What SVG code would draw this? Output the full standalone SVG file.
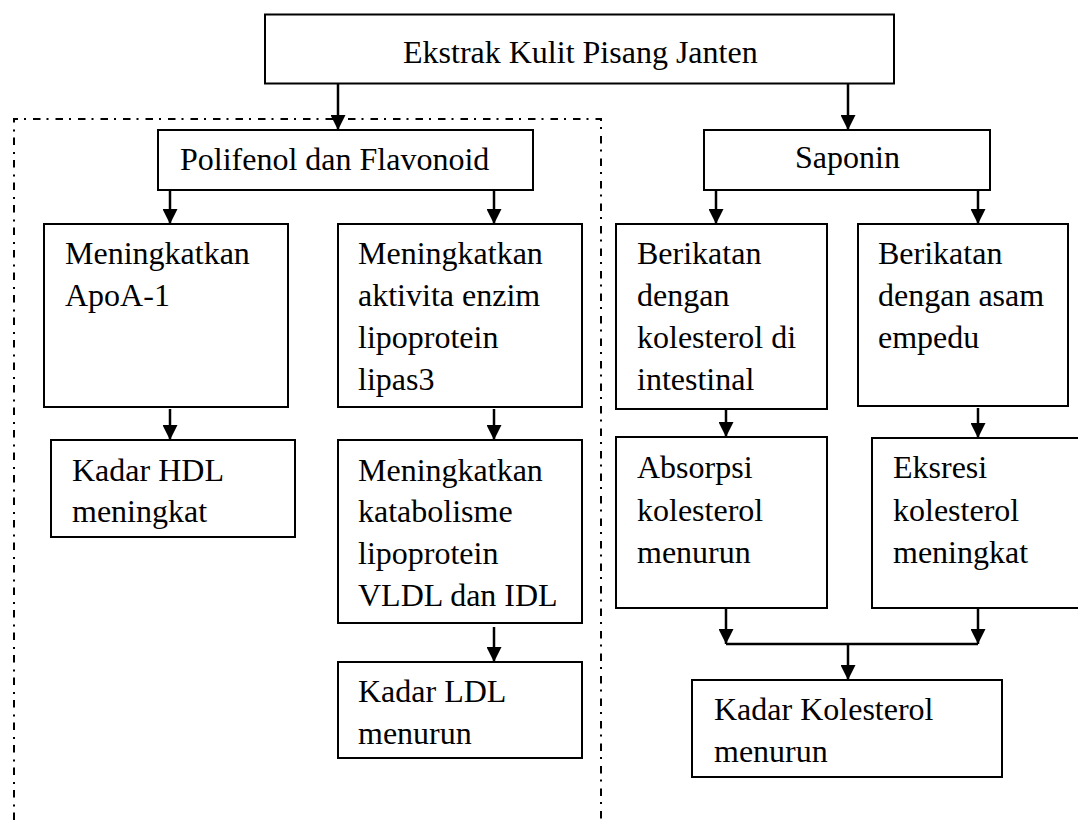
<svg xmlns="http://www.w3.org/2000/svg" width="1078" height="820" viewBox="0 0 1078 820">
<defs>
<marker id="ah" markerUnits="userSpaceOnUse" markerWidth="15" markerHeight="15" refX="15" refY="7.5" orient="auto">
<path d="M0,0 L15,7.5 L0,15 z" fill="#000"/>
</marker>
<style>
.box{fill:#fff;stroke:#000;stroke-width:2}
.t{font-family:"Liberation Serif","Times New Roman",serif;font-size:32px;fill:#000}
.c{fill:none;stroke:#000;stroke-width:2.5}
.a{fill:none;stroke:#000;stroke-width:2.5;marker-end:url(#ah)}
.dash{fill:none;stroke:#000;stroke-width:2;stroke-dasharray:7.5 6 2 7}
</style>
</defs>
<rect width="1078" height="820" fill="#fff"/>
<path class="dash" d="M14,820 V119 H601 V820"/>
<g id="connectors">
<line class="a" x1="338" y1="84" x2="338" y2="130"/>
<line class="a" x1="848" y1="84" x2="848" y2="130"/>
<line class="a" x1="170" y1="190" x2="170" y2="224"/>
<line class="a" x1="494" y1="190" x2="494" y2="224"/>
<line class="a" x1="716" y1="190" x2="716" y2="224"/>
<line class="a" x1="978" y1="190" x2="978" y2="224"/>
<line class="a" x1="170" y1="409" x2="170" y2="440"/>
<line class="a" x1="494" y1="409" x2="494" y2="440"/>
<line class="a" x1="726" y1="409" x2="726" y2="437"/>
<line class="a" x1="978" y1="408" x2="978" y2="438"/>
<line class="a" x1="494" y1="627" x2="494" y2="662"/>
<line class="a" x1="726" y1="608" x2="726" y2="644"/>
<line class="a" x1="978" y1="608" x2="978" y2="644"/>
<line class="c" x1="726" y1="644" x2="978" y2="644"/>
<line class="a" x1="848" y1="644" x2="848" y2="680"/>
</g>
<g id="n-ekstrak">
<rect class="box" x="265" y="14.5" width="629" height="69"/>
<text class="t" x="403" y="63">Ekstrak Kulit Pisang Janten</text>
</g>
<g id="n-polifenol">
<rect class="box" x="158" y="130" width="375" height="60"/>
<text class="t" x="180" y="170">Polifenol dan Flavonoid</text>
</g>
<g id="n-saponin">
<rect class="box" x="704" y="130" width="286" height="60"/>
<text class="t" x="795" y="168">Saponin</text>
</g>
<g id="n-apoa">
<rect class="box" x="44" y="224" width="244" height="183"/>
<text class="t" x="65" y="264">Meningkatkan</text>
<text class="t" x="65" y="306">ApoA-1</text>
</g>
<g id="n-enzim">
<rect class="box" x="338" y="224" width="244" height="183"/>
<text class="t" x="358" y="264">Meningkatkan</text>
<text class="t" x="358" y="306">aktivita enzim</text>
<text class="t" x="358" y="348">lipoprotein</text>
<text class="t" x="358" y="390">lipas3</text>
</g>
<g id="n-berikatan1">
<rect class="box" x="616" y="224" width="211" height="185"/>
<text class="t" x="637" y="264">Berikatan</text>
<text class="t" x="637" y="306">dengan</text>
<text class="t" x="637" y="348">kolesterol di</text>
<text class="t" x="637" y="390">intestinal</text>
</g>
<g id="n-berikatan2">
<rect class="box" x="858" y="224" width="210" height="182"/>
<text class="t" x="878" y="264">Berikatan</text>
<text class="t" x="878" y="306">dengan asam</text>
<text class="t" x="878" y="348">empedu</text>
</g>
<g id="n-hdl">
<rect class="box" x="51" y="440" width="244" height="97"/>
<text class="t" x="72" y="481">Kadar HDL</text>
<text class="t" x="72" y="522">meningkat</text>
</g>
<g id="n-katabolisme">
<rect class="box" x="338" y="440" width="244" height="183"/>
<text class="t" x="358" y="481">Meningkatkan</text>
<text class="t" x="358" y="522">katabolisme</text>
<text class="t" x="358" y="564">lipoprotein</text>
<text class="t" x="358" y="606">VLDL dan IDL</text>
</g>
<g id="n-ldl">
<rect class="box" x="338" y="662" width="244" height="96"/>
<text class="t" x="358" y="702">Kadar LDL</text>
<text class="t" x="358" y="744">menurun</text>
</g>
<g id="n-absorpsi">
<rect class="box" x="616" y="437" width="211" height="171"/>
<text class="t" x="637" y="478">Absorpsi</text>
<text class="t" x="637" y="521">kolesterol</text>
<text class="t" x="637" y="563">menurun</text>
</g>
<g id="n-eksresi">
<rect class="box" x="872" y="438" width="230" height="170"/>
<text class="t" x="893" y="478">Eksresi</text>
<text class="t" x="893" y="521">kolesterol</text>
<text class="t" x="893" y="563">meningkat</text>
</g>
<g id="n-kolesterol">
<rect class="box" x="692" y="680" width="310" height="97"/>
<text class="t" x="714" y="720">Kadar Kolesterol</text>
<text class="t" x="714" y="762">menurun</text>
</g>
</svg>
